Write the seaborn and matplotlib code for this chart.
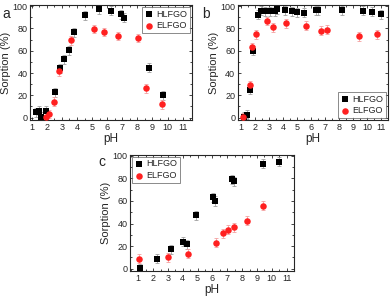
import matplotlib
matplotlib.use("Agg")
import matplotlib.pyplot as plt
import seaborn as sns
import pandas as pd
from matplotlib.ticker import MultipleLocator

# panel a
a_h_ph = [1.26, 1.49, 1.6, 1.93, 2.55, 2.88, 3.13, 3.44, 3.77, 4.55, 5.46, 6.26, 6.9, 7.1, 8.78, 9.72]
a_h_val = [5.0, 6.3, 1.0, 6.0, 22.6, 44.3, 52.4, 60.4, 76.5, 92.0, 97.3, 96.0, 92.9, 89.6, 44.6, 20.2]
a_e_ph = [1.95, 2.15, 2.5, 2.8, 3.6, 5.13, 5.81, 6.7, 8.05, 8.55, 9.61]
a_e_val = [1.0, 3.3, 14.3, 41.7, 69.3, 79.5, 76.8, 73.2, 71.4, 26.2, 12.2]

# panel b
b_h_ph = [1.24, 1.43, 1.66, 1.9, 2.26, 2.45, 2.71, 3.09, 3.42, 3.6, 4.14, 4.67, 5.0, 5.5,
          6.37, 6.53, 8.22, 9.74, 10.38, 11.0]
b_h_val = [1.0, 2.7, 25.2, 60.0, 92.3, 95.9, 95.6, 95.6, 95.6, 97.0, 96.4, 95.6, 94.4, 94.0,
           96.4, 96.4, 96.4, 96.0, 95.0, 92.6]
b_e_ph = [1.19, 1.64, 1.78, 2.07, 2.88, 3.28, 4.23, 5.63, 6.7, 7.14, 9.45, 10.7]
b_e_val = [0.3, 29.0, 63.0, 74.9, 86.7, 81.0, 84.6, 82.5, 77.8, 79.0, 73.0, 74.9]

# panel c
c_h_ph = [1.13, 2.27, 3.2, 4.0, 4.27, 4.92, 6.04, 6.16, 7.33, 7.47, 9.4, 10.52]
c_h_val = [0.3, 8.8, 17.0, 23.8, 21.5, 47.4, 63.5, 60.0, 79.4, 77.6, 92.9, 94.7]
c_e_ph = [1.02, 2.98, 4.38, 6.27, 6.7, 7.07, 7.48, 8.34, 9.42]
c_e_val = [8.8, 10.0, 13.2, 22.9, 31.5, 34.4, 36.5, 42.6, 55.9]

sns.set_style("ticks")
plt.rcParams['font.family'] = ['Liberation Sans', 'DejaVu Sans']

fig = plt.figure(figsize=(3.92, 2.96), dpi=100)
ax_a = fig.add_axes([0.077, 0.595, 0.412, 0.388])
ax_b = fig.add_axes([0.607, 0.595, 0.383, 0.388])
ax_c = fig.add_axes([0.332, 0.085, 0.418, 0.392])


def draw(ax, hx, hy, ex, ey, xlim, legend_loc):
    h = pd.DataFrame({'pH': hx, 'Sorption': hy})
    e = pd.DataFrame({'pH': ex, 'Sorption': ey})
    ax.errorbar(h['pH'], h['Sorption'], yerr=4, fmt='none', ecolor='#a0a0a0',
                elinewidth=0.6, capsize=1.2, capthick=0.6, zorder=1)
    ax.errorbar(e['pH'], e['Sorption'], yerr=4, fmt='none', ecolor='#f4a0a0',
                elinewidth=0.6, capsize=1.2, capthick=0.6, zorder=1)
    sns.scatterplot(data=h, x='pH', y='Sorption', ax=ax, marker='s', color='black',
                    s=18, linewidth=0, label='HLFGO', zorder=3)
    sns.scatterplot(data=e, x='pH', y='Sorption', ax=ax, marker='o', color='#ff2020',
                    s=22, linewidth=0, label='ELFGO', zorder=3)
    ax.set_xlim(*xlim)
    ax.set_ylim(-2, 101)
    ax.xaxis.set_major_locator(MultipleLocator(1))
    ax.yaxis.set_major_locator(MultipleLocator(20))
    ax.xaxis.set_minor_locator(MultipleLocator(0.5))
    ax.yaxis.set_minor_locator(MultipleLocator(10))
    ax.tick_params(which='both', direction='in', top=True, right=True, labelsize=6.5,
                   width=0.6, pad=2)
    ax.tick_params(which='major', length=2.5)
    ax.tick_params(which='minor', length=1.5)
    for sp in ax.spines.values():
        sp.set_linewidth(0.8)
    ax.set_xlabel('pH', fontsize=8.5, labelpad=1)
    ax.set_ylabel('Sorption (%)', fontsize=8, labelpad=1)
    leg = ax.legend(loc=legend_loc, fontsize=6.5, frameon=True, fancybox=False,
                    handletextpad=0.3, borderpad=0.3, labelspacing=0.3,
                    handlelength=1.0, borderaxespad=0.2)
    leg.get_frame().set_edgecolor('#555555')
    leg.get_frame().set_linewidth(0.6)


draw(ax_a, a_h_ph, a_h_val, a_e_ph, a_e_val, (0.9, 11.6), 'upper right')
draw(ax_b, b_h_ph, b_h_val, b_e_ph, b_e_val, (0.8, 11.5), 'lower right')
draw(ax_c, c_h_ph, c_h_val, c_e_ph, c_e_val, (0.45, 11.5), 'upper left')

fig.text(0.005, 0.975, 'a', fontsize=10, va='top', ha='left')
fig.text(0.515, 0.975, 'b', fontsize=10, va='top', ha='left')
fig.text(0.252, 0.475, 'c', fontsize=10, va='top', ha='left')

fig.savefig('out.png', dpi=100)
